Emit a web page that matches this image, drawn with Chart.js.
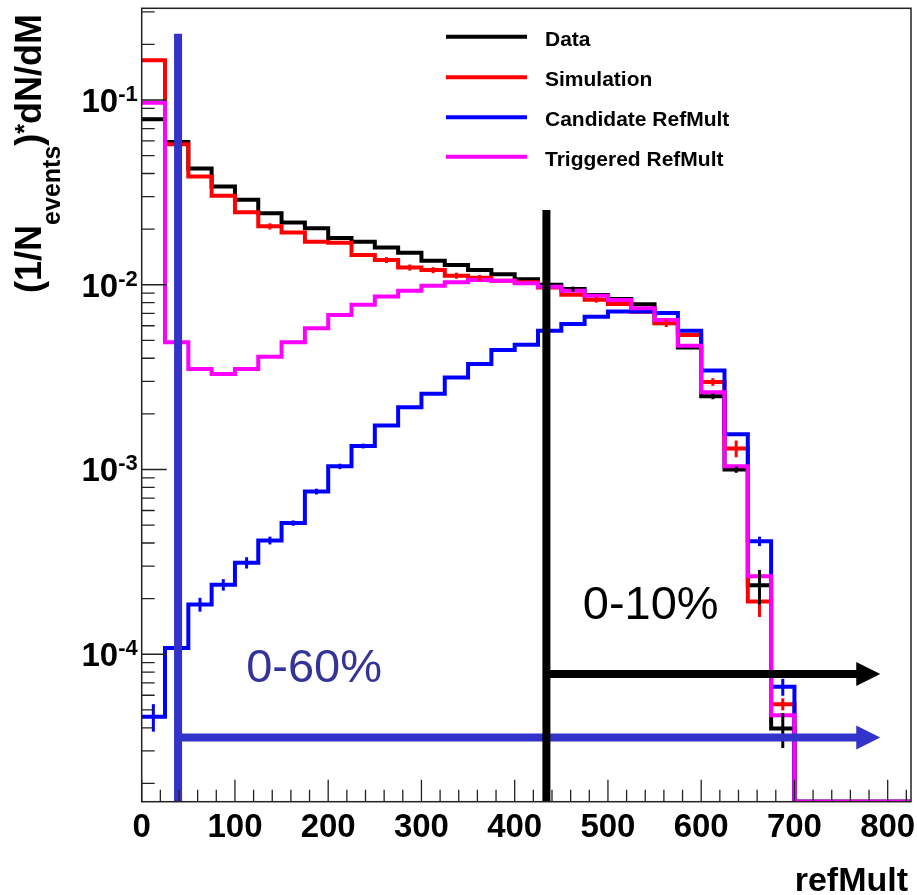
<!DOCTYPE html>
<html>
<head>
<meta charset="utf-8">
<title>refMult distributions</title>
<script src="https://cdn.jsdelivr.net/npm/chart.js@4.4.1/dist/chart.umd.min.js"></script>
<style>
  html, body { margin: 0; padding: 0; background: #ffffff; }
  canvas { display: block; }
</style>
</head>
<body>
<canvas id="chart" width="917" height="895"></canvas>
<script>
// refMult bin edges (25 per bin)
const binEdges = [0, 25, 50, 75, 100, 125, 150, 175, 200, 225, 250, 275, 300, 325, 350, 375, 400,
  425, 450, 475, 500, 525, 550, 575, 600, 625, 650, 675, 700, 725, 750, 775, 800, 825];

// (1/N_events) dN/dM per bin
const dataValues = [0.0787, 0.0593, 0.0426, 0.0340, 0.0288, 0.0244, 0.0217, 0.0202, 0.0179, 0.0171,
  0.0159, 0.0149, 0.0135, 0.0128, 0.0120, 0.0114, 0.0107, 0.0100, 0.00947, 0.00880,
  0.00837, 0.00783, 0.00618, 0.00458, 0.00249, 0.00100, 0.000236, 0.0000396, 0, 0, 0, 0, 0];
const dataErrors = [0, 0, 0, 0, 0, 0, 0, 0, 0, 0, 0, 0, 0, 0, 0, 0, 0, 0, 0.0003, 0,
  0, 0, 0, 0, 0.00009, 0.00004, 0.00005, 0.0000085, 0, 0, 0, 0, 0];

const simValues = [0.164, 0.0576, 0.0385, 0.0303, 0.0247, 0.0207, 0.0192, 0.0171, 0.0169, 0.0145,
  0.0136, 0.0124, 0.0120, 0.0112, 0.0109, 0.0105, 0.0103, 0.00966, 0.00884, 0.00830,
  0.00787, 0.00715, 0.00620, 0.00535, 0.00298, 0.00130, 0.000193, 0.0000537, 0, 0, 0, 0, 0];
const simErrors = [0, 0, 0, 0, 0, 0.0008, 0, 0, 0, 0, 0.0005, 0.00047, 0.00045, 0.00042, 0.0004, 0, 0, 0, 0, 0.0003,
  0, 0, 0.0003, 0, 0.00014, 0.000135, 0.000034, 0.000004, 0, 0, 0, 0, 0];

const candValues = [0.0000459, 0.000108, 0.000186, 0.000238, 0.000313, 0.000413, 0.000513, 0.00076, 0.00104, 0.00134,
  0.00173, 0.00217, 0.00257, 0.00315, 0.00372, 0.00443, 0.00474, 0.00564, 0.00613, 0.00672,
  0.00717, 0.00717, 0.00703, 0.00564, 0.00343, 0.00155, 0.000409, 0.0000666, 0, 0, 0, 0, 0];
const candErrors = [0.0000078, 0.000012, 0.000016, 0.000017, 0.000022, 0.00002, 0.000017, 0.000027, 0.000035, 0.00004,
  0, 0, 0, 0, 0, 0, 0, 0, 0, 0,
  0, 0, 0, 0, 0, 0.00003, 0.000024, 0.000007, 0, 0, 0, 0, 0];

const trigValues = [0.0967, 0.00488, 0.00350, 0.00329, 0.00350, 0.00408, 0.00488, 0.00581, 0.00686, 0.00780,
  0.00865, 0.00929, 0.00988, 0.0103, 0.0106, 0.0105, 0.0102, 0.00975, 0.00929, 0.00873,
  0.00826, 0.00745, 0.00645, 0.00468, 0.00262, 0.00104, 0.000264, 0.0000468, 0, 0, 0, 0, 0];

const seriesLabels = ['Data', 'Simulation', 'Candidate RefMult', 'Triggered RefMult'];

// axis labelling
const xTickValues = [0, 100, 200, 300, 400, 500, 600, 700, 800];
const yDecades = [1e-1, 1e-2, 1e-3, 1e-4];
const yDecadeExponents = ['-1', '-2', '-3', '-4'];

// centrality cuts on refMult
const cutRefMult = [39, 434];
const cutLabels = ['0-60%', '0-10%'];

const X_MIN = 0, X_MAX = 825;
const Y_MIN = 1.592e-5, Y_MAX = 0.3135;
const FONT = '"Liberation Sans", Arial, Helvetica, sans-serif';
const CUT_BLUE = '#3333cc';

// zero bins are drawn along the lower frame edge
function histPoints(values) {
  const pts = values.map((v, i) => ({ x: binEdges[i], y: v > 0 ? v : Y_MIN }));
  const last = values[values.length - 1];
  pts.push({ x: binEdges[values.length], y: last > 0 ? last : Y_MIN });
  return pts;
}

function histDataset(label, values, errors, color, order) {
  return {
    label,
    data: histPoints(values),
    values,
    errors,
    borderColor: color,
    backgroundColor: color,
    borderWidth: 4,
    stepped: 'before',
    pointRadius: 0,
    pointHoverRadius: 0,
    fill: false,
    order,
    borderJoinStyle: 'miter',
    borderCapStyle: 'butt'
  };
}

const cutGeometry = [
  { color: CUT_BLUE, lineTop: 0.228, arrowLevel: 3.54e-5, arrowTip: 792, labelAt: [112, 7.08e-5], textColor: '#333399' },
  { color: '#000000', lineTop: 0.0254, arrowLevel: 7.82e-5, arrowTip: 792, labelAt: [473, 1.55e-4], textColor: '#000000' }
];

const rootStyle = {
  id: 'rootStyle',
  afterDatasetsDraw(chart) {
    const { ctx, chartArea: a } = chart;
    const xs = chart.scales.x, ys = chart.scales.y;
    ctx.save();

    // error bars at bin centres
    chart.data.datasets.slice().reverse().forEach(ds => {
      if (!ds.errors) return;
      ctx.strokeStyle = ds.borderColor;
      ctx.lineWidth = 3;
      ds.errors.forEach((e, i) => {
        if (!e || !(ds.values[i] > 0)) return;
        const v = ds.values[i];
        const cx = xs.getPixelForValue((binEdges[i] + binEdges[i + 1]) / 2);
        ctx.beginPath();
        ctx.moveTo(cx, ys.getPixelForValue(v + e));
        ctx.lineTo(cx, ys.getPixelForValue(Math.max(v - e, Y_MIN)));
        ctx.stroke();
      });
    });

    // centrality cut lines and arrows
    cutRefMult.forEach((cut, k) => {
      const g = cutGeometry[k];
      const lx = xs.getPixelForValue(cut);
      ctx.strokeStyle = g.color;
      ctx.fillStyle = g.color;
      ctx.lineWidth = 8;
      ctx.lineCap = 'butt';
      ctx.beginPath();
      ctx.moveTo(lx, ys.getPixelForValue(g.lineTop));
      ctx.lineTo(lx, a.bottom);
      ctx.stroke();
      const ay = ys.getPixelForValue(g.arrowLevel);
      const tip = xs.getPixelForValue(g.arrowTip);
      ctx.beginPath();
      ctx.moveTo(lx, ay);
      ctx.lineTo(tip - 22, ay);
      ctx.stroke();
      ctx.beginPath();
      ctx.moveTo(tip, ay);
      ctx.lineTo(tip - 24, ay - 12);
      ctx.lineTo(tip - 24, ay + 12);
      ctx.closePath();
      ctx.fill();
      ctx.fillStyle = g.textColor;
      ctx.font = '47px ' + FONT;
      ctx.textAlign = 'left';
      ctx.textBaseline = 'alphabetic';
      ctx.fillText(cutLabels[k], xs.getPixelForValue(g.labelAt[0]), ys.getPixelForValue(g.labelAt[1]));
    });

    // frame
    ctx.strokeStyle = '#222222';
    ctx.lineWidth = 1.5;
    ctx.strokeRect(a.left, a.top, a.right - a.left, a.bottom - a.top);

    // x ticks: major every 100, minor every 20
    ctx.lineWidth = 1.3;
    ctx.beginPath();
    for (let v = X_MIN; v <= X_MAX; v += 20) {
      const px = xs.getPixelForValue(v);
      const len = (v % 100 === 0) ? 22 : 12;
      ctx.moveTo(px, a.bottom);
      ctx.lineTo(px, a.bottom - len);
    }
    // y ticks: decades and 2..9 sub-divisions
    for (let d = -5; d <= 0; d++) {
      for (let m = 1; m <= 9; m++) {
        const v = m * Math.pow(10, d);
        if (v < Y_MIN || v > Y_MAX) continue;
        const py = ys.getPixelForValue(v);
        const len = (m === 1) ? 25 : 13;
        ctx.moveTo(a.left, py);
        ctx.lineTo(a.left + len, py);
      }
    }
    ctx.stroke();

    // x tick labels
    ctx.fillStyle = '#000000';
    ctx.font = 'bold 33px ' + FONT;
    ctx.textAlign = 'center';
    ctx.textBaseline = 'alphabetic';
    xTickValues.forEach(v => ctx.fillText(String(v), xs.getPixelForValue(v), a.bottom + 35));

    // y tick labels 10^n
    yDecades.forEach((v, i) => {
      const py = ys.getPixelForValue(v);
      ctx.font = 'bold 22px ' + FONT;
      const supW = ctx.measureText(yDecadeExponents[i]).width;
      const right = a.left - 4;
      ctx.textAlign = 'left';
      ctx.fillText(yDecadeExponents[i], right - supW, py + 1);
      ctx.font = 'bold 33px ' + FONT;
      ctx.textAlign = 'right';
      ctx.fillText('10', right - supW, py + 12);
    });

    // x axis title
    ctx.font = 'bold 34px ' + FONT;
    ctx.textAlign = 'right';
    ctx.fillText('refMult', 908, 891);

    // y axis title with sub/superscript
    const parts = [
      { t: '(1/N', size: 36, dy: 0 },
      { t: 'events', size: 25, dy: 19 },
      { t: ')', size: 36, dy: 0 },
      { t: '*', size: 25, dy: -8 },
      { t: 'dN/dM', size: 36, dy: 0 }
    ];
    let total = 0;
    parts.forEach(p => { ctx.font = 'bold ' + p.size + 'px ' + FONT; p.w = ctx.measureText(p.t).width; total += p.w; });
    ctx.translate(41, 14 + total);
    ctx.rotate(-Math.PI / 2);
    ctx.textAlign = 'left';
    let cx = 0;
    parts.forEach(p => {
      ctx.font = 'bold ' + p.size + 'px ' + FONT;
      ctx.fillText(p.t, cx, p.dy);
      cx += p.w;
    });
    ctx.restore();

    // legend
    ctx.save();
    const legendColors = chart.data.datasets.map(ds => ds.borderColor);
    const rows = [36.7, 77.3, 117.3, 156.7];
    seriesLabels.forEach((lab, i) => {
      ctx.strokeStyle = legendColors[i];
      ctx.lineWidth = 4;
      ctx.beginPath();
      ctx.moveTo(446, rows[i]);
      ctx.lineTo(527, rows[i]);
      ctx.stroke();
      ctx.fillStyle = '#000000';
      ctx.font = 'bold 21px ' + FONT;
      ctx.textAlign = 'left';
      ctx.textBaseline = 'alphabetic';
      ctx.fillText(lab, 545, rows[i] + 9);
    });
    ctx.restore();
  }
};

new Chart(document.getElementById('chart'), {
  type: 'line',
  data: {
    datasets: [
      histDataset(seriesLabels[0], dataValues, dataErrors, '#000000', 3),
      histDataset(seriesLabels[1], simValues, simErrors, '#ff0000', 2),
      histDataset(seriesLabels[2], candValues, candErrors, '#0000ff', 1),
      histDataset(seriesLabels[3], trigValues, null, '#ff00ff', 0)
    ]
  },
  options: {
    responsive: false,
    animation: false,
    devicePixelRatio: 1,
    layout: { padding: { left: 141.7, top: 8.3, right: 6, bottom: 93.3 } },
    scales: {
      x: { type: 'linear', min: X_MIN, max: X_MAX, display: false },
      y: { type: 'logarithmic', min: Y_MIN, max: Y_MAX, display: false }
    },
    plugins: {
      legend: { display: false },
      tooltip: { enabled: false }
    },
    events: []
  },
  plugins: [rootStyle]
});
</script>
</body>
</html>
